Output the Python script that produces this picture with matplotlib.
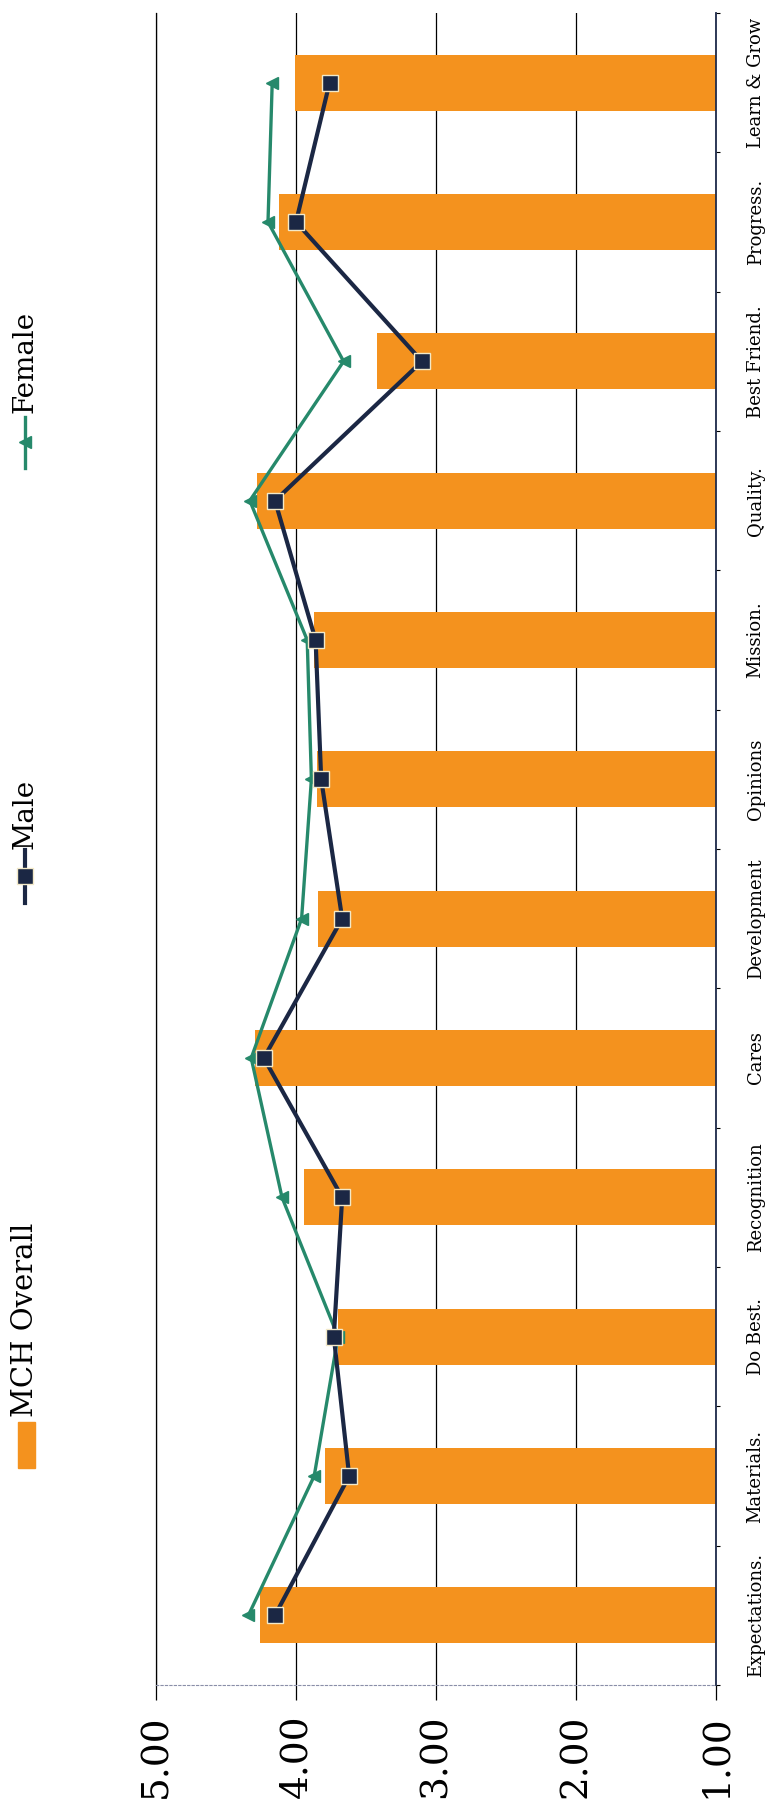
import matplotlib
matplotlib.use("Agg")
import matplotlib.pyplot as plt
from matplotlib.lines import Line2D
from matplotlib.patches import Rectangle
import numpy as np

plt.rcParams["font.family"] = ["DejaVu Serif"]

categories = ["Expectations.", "Materials.", "Do Best.", "Recognition", "Cares",
              "Development", "Opinions", "Mission.", "Quality.", "Best Friend.",
              "Progress.", "Learn & Grow"]
mch_overall = [4.26, 3.79, 3.70, 3.94, 4.29, 3.84, 3.85, 3.87, 4.28, 3.42, 4.12, 4.01]
male = [4.15, 3.62, 3.73, 3.67, 4.23, 3.67, 3.82, 3.86, 4.15, 3.10, 4.00, 3.76]
female = [4.34, 3.87, 3.70, 4.10, 4.32, 3.96, 3.89, 3.92, 4.33, 3.66, 4.20, 4.17]
value_ticks = [5, 4, 3, 2, 1]
value_labels = ["5.00", "4.00", "3.00", "2.00", "1.00"]

ORANGE = "#F4921E"
NAVY = "#1B2744"
GREEN = "#26896B"

W, H = 767, 1817


def fx(x):
    return x / W


def fy(y):
    return 1 - y / H


fig = plt.figure(figsize=(W / 100, H / 100), dpi=100)
ax = fig.add_axes([fx(156), fy(1685), fx(716) - fx(156), fy(13) - fy(1685)])

pos = np.arange(len(categories))
ax.barh(pos, np.array(mch_overall) - 1, left=1, height=0.4, color=ORANGE, zorder=2)
ax.plot(female, pos, color=GREEN, lw=2.4, marker="<", ms=9, mfc=GREEN, mec=GREEN, zorder=3)
ax.plot(male, pos, color=NAVY, lw=3, marker="s", ms=12, mfc=NAVY, mec="#F3E9C8", mew=1, zorder=4)

ax.set_xlim(5, 1)
ax.set_ylim(-0.5, len(categories) - 0.5)

# value axis (drawn at the bottom, labels turned)
ax.set_xticks(value_ticks)
ax.set_xticklabels(value_labels, rotation=90, fontsize=27)
ax.tick_params(axis="x", length=11, width=0.9, pad=10, color="black")
ax.grid(axis="x", color="black", lw=0.9, zorder=1)

# category axis on the right
ax.yaxis.tick_right()
ax.set_yticks(pos)
ax.set_yticklabels(categories, rotation=90, fontsize=13, va="center")
ax.set_yticks(np.arange(len(categories) + 1) - 0.5, minor=True)
ax.tick_params(axis="y", which="major", length=0, pad=22)
ax.tick_params(axis="y", which="minor", length=3, width=0.8, right=True, left=False)

ax.spines["top"].set_visible(False)
ax.spines["left"].set_color("black")
ax.spines["left"].set_linewidth(0.9)
ax.spines["right"].set_color("#1E2A4A")
ax.spines["right"].set_linewidth(1.3)
ax.spines["bottom"].set_linestyle((0, (2, 2)))
ax.spines["bottom"].set_color("#8A8FA8")
ax.spines["bottom"].set_linewidth(0.8)

# legend, stacked down the left edge with turned text
fig.add_artist(Line2D([fx(25), fx(25)], [fy(417), fy(468)], color=GREEN, lw=2.4,
                      transform=fig.transFigure))
fig.add_artist(Line2D([fx(25)], [fy(442)], color=GREEN, marker="<", ms=9,
                      transform=fig.transFigure))
fig.text(fx(25), fy(413), "Female", rotation=90, rotation_mode="anchor",
         ha="left", va="center", fontsize=20)

fig.add_artist(Line2D([fx(25), fx(25)], [fy(850), fy(903)], color=NAVY, lw=3,
                      transform=fig.transFigure))
fig.add_artist(Line2D([fx(25)], [fy(876)], color=NAVY, marker="s", ms=12, mec="#F3E9C8",
                      mew=1, transform=fig.transFigure))
fig.text(fx(25), fy(849), "Male", rotation=90, rotation_mode="anchor",
         ha="left", va="center", fontsize=20)

fig.add_artist(Rectangle((fx(18), fy(1468)), fx(17), fy(1422) - fy(1468), color=ORANGE,
                         transform=fig.transFigure))
fig.text(fx(25), fy(1417), "MCH Overall", rotation=90, rotation_mode="anchor",
         ha="left", va="center", fontsize=21)

fig.savefig("out.png", dpi=100)
